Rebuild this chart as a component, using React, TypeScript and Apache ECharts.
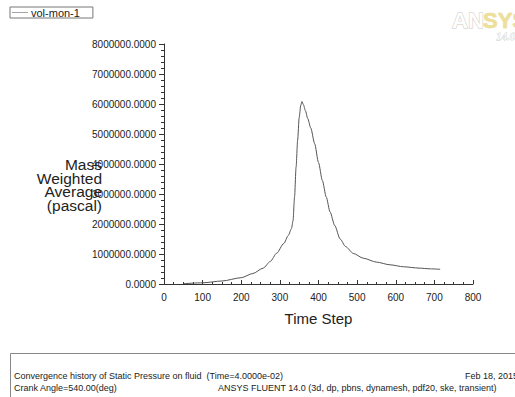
import React, { useEffect, useRef } from "react";
import * as echarts from "echarts";

const steps = [50, 100, 150, 200, 230, 257, 275, 292, 310, 322, 330, 334, 338, 342, 346, 350, 354, 357, 361, 366, 372, 380, 390, 400, 410, 420, 430, 442, 456, 470, 490, 516, 550, 585, 620, 660, 690, 715];
const pressure = [10000, 40000, 100000, 210000, 350000, 530000, 750000, 1030000, 1350000, 1620000, 1850000, 2100000, 2900000, 3900000, 4800000, 5550000, 5950000, 6080000, 5980000, 5780000, 5520000, 5200000, 4680000, 4050000, 3450000, 2900000, 2400000, 1950000, 1500000, 1250000, 1020000, 860000, 730000, 640000, 575000, 530000, 505000, 490000];
const seriesName = "vol-mon-1";
const yTitleLines = ["Mass", "Weighted", "Average", "(pascal)"];
const footerLeft1 = "Convergence history of Static Pressure on fluid  (Time=4.0000e-02)";
const footerLeft2 = "Crank Angle=540.00(deg)";
const footerRight1 = "Feb 18, 2015";
const footerRight2 = "ANSYS FLUENT 14.0 (3d, dp, pbns, dynamesh, pdf20, ske, transient)";

const FONT = "'Liberation Sans', Arial, sans-serif";

export default function App() {
  const ref = useRef<HTMLDivElement>(null);
  useEffect(() => {
    if (!ref.current) return;
    const chart = echarts.init(ref.current, undefined, { renderer: "svg" });
    const data = steps.map((s, i) => [s, pressure[i]]);
    chart.setOption({
      animation: false,
      backgroundColor: "#fff",
      textStyle: { fontFamily: FONT },
      grid: { left: 164, right: 42, top: 44, bottom: 113 },
      legend: {
        left: 10,
        top: 7,
        data: [seriesName],
        icon: "path://M0,0 L30,0 L30,1 L0,1 Z",
        itemWidth: 16,
        itemHeight: 1,
        itemGap: 4,
        padding: [0, 13, 0, 2],
        borderColor: "#777",
        borderWidth: 1,
        textStyle: { fontSize: 11, color: "#222", fontFamily: FONT, padding: [0, 0, 0, -2] },
      },
      xAxis: {
        type: "value",
        min: 0,
        max: 800,
        interval: 100,
        name: "Time Step",
        nameLocation: "middle",
        nameGap: 27,
        nameTextStyle: { fontSize: 15, color: "#222", fontFamily: FONT },
        axisLine: { lineStyle: { color: "#333" } },
        axisTick: { inside: true, length: 4, lineStyle: { color: "#333" } },
        minorTick: { show: true, splitNumber: 4, length: 2, lineStyle: { color: "#333" } },
        axisLabel: { fontSize: 10, color: "#222", margin: 8, fontFamily: FONT },
        splitLine: { show: false },
      },
      yAxis: {
        type: "value",
        min: 0,
        max: 8000000,
        interval: 1000000,
        axisLine: { show: true, lineStyle: { color: "#333" } },
        axisTick: { show: true, length: 5, lineStyle: { color: "#333" } },
        minorTick: { show: true, splitNumber: 5, length: 3, lineStyle: { color: "#333" } },
        axisLabel: {
          fontSize: 10,
          color: "#222",
          margin: 8,
          fontFamily: FONT,
          formatter: (v: number) => v.toFixed(4),
        },
        splitLine: { show: false },
      },
      series: [
        {
          name: seriesName,
          type: "line",
          data,
          smooth: 0.25,
          smoothMonotone: "x",
          showSymbol: false,
          symbol: "none",
          lineStyle: { color: "#555", width: 1 },
          itemStyle: { color: "#555" },
        },
      ],
      graphic: [
        {
          type: "text",
          x: 102,
          y: 158,
          style: {
            text: yTitleLines.join("\n"),
            fontSize: 15.5,
            lineHeight: 13.5,
            fill: "#222",
            fontFamily: FONT,
            align: "right",
            verticalAlign: "top",
          },
          z: 10,
        },
        {
          type: "rect",
          shape: { x: 10.5, y: 353.5, width: 520, height: 60 },
          style: { fill: "none", stroke: "#888", lineWidth: 1 },
        },
        {
          type: "text",
          x: 14,
          y: 371,
          style: { text: footerLeft1, fontSize: 9, fill: "#222", fontFamily: FONT },
        },
        {
          type: "text",
          x: 14,
          y: 383,
          style: { text: footerLeft2, fontSize: 9, fill: "#222", fontFamily: FONT },
        },
        {
          type: "text",
          x: 518,
          y: 371,
          style: { text: footerRight1, fontSize: 9, fill: "#222", fontFamily: FONT, align: "right" },
        },
        {
          type: "text",
          x: 218,
          y: 383,
          style: { text: footerRight2, fontSize: 9, fill: "#222", fontFamily: FONT },
        },
        {
          type: "text",
          x: 452,
          y: 9,
          style: {
            text: "AN",
            fontSize: 22,
            fontWeight: "bold",
            fill: "#fff",
            stroke: "#c8c8c8",
            lineWidth: 1,
            fontFamily: FONT,
          },
        },
        {
          type: "text",
          x: 483,
          y: 9,
          style: {
            text: "SYS",
            fontSize: 22,
            fontWeight: "bold",
            fill: "#ece09a",
            stroke: "#e0d080",
            lineWidth: 0.5,
            fontFamily: FONT,
          },
        },
        {
          type: "text",
          x: 496,
          y: 30,
          style: {
            text: "14.0",
            fontSize: 11,
            fontStyle: "italic",
            fill: "#fff",
            stroke: "#cfcfcf",
            lineWidth: 0.8,
            fontFamily: "'Liberation Serif', serif",
          },
        },
      ],
    });
    return () => chart.dispose();
  }, []);
  return <div ref={ref} style={{ width: 515, height: 397, position: "absolute", left: 0, top: 0 }} />;
}
